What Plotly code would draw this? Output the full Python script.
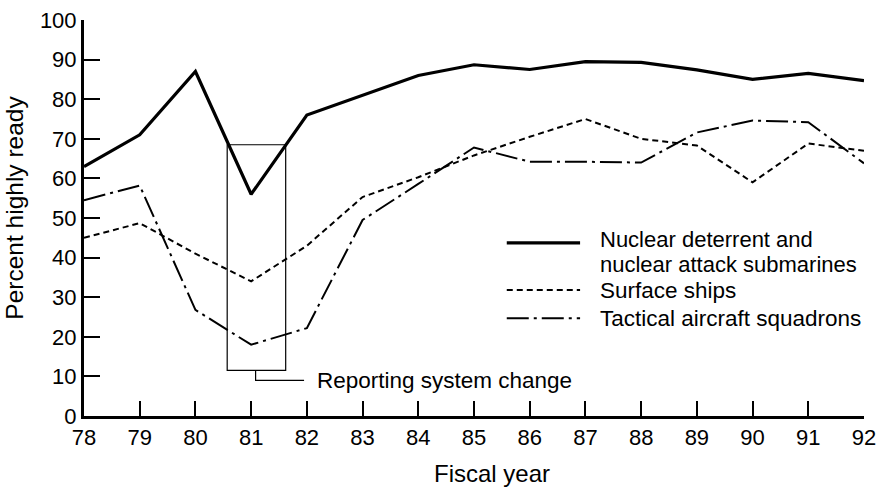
import plotly.graph_objects as go

years = list(range(78, 93))
year_labels = [str(y) for y in years]

nuclear = [63, 71, 87, 56, 76, 81, 86, 88.7, 87.5, 89.5, 89.3, 87.4, 85, 86.5, 84.7]
surface = [45, 48.7, 41, 34, 43, 55.3, 60.3, 65.8, 70.5, 75, 70, 68.3, 59, 68.8, 67]
tactical = [54.5, 58.2, 26.8, 18, 22.2, 49.5, 58.6, 67.8, 64.2, 64.2, 64, 71.6, 74.6, 74.2, 63.8]

y_ticks = list(range(0, 101, 10))

# reporting system change box (data units)
box_x = [80.57, 81.62]
box_y = [11.5, 68.5]
note_x = 81.08
note_y = 9.0
note_end = 81.95

FONT = "Liberation Sans, Arial, Helvetica, sans-serif"
TXT = 22.5

fig = go.Figure()
fig.add_trace(go.Scatter(x=years, y=nuclear, mode="lines",
                         line=dict(color="black", width=3.2)))
fig.add_trace(go.Scatter(x=years, y=surface, mode="lines",
                         line=dict(color="black", width=2, dash="6px,4px")))
fig.add_trace(go.Scatter(x=years, y=tactical, mode="lines",
                         line=dict(color="black", width=2, dash="22px,5px,3px,5px")))

shapes = [
    dict(type="rect", xref="x", yref="y", x0=box_x[0], x1=box_x[1],
         y0=box_y[0], y1=box_y[1], line=dict(color="black", width=1.2)),
    dict(type="path", xref="x", yref="y",
         path=f"M {note_x},{box_y[0]} L {note_x},{note_y} L {note_end},{note_y}",
         line=dict(color="black", width=1.2)),
]

# legend samples drawn by hand
leg = [
    (0.437, dict(color="black", width=3.2)),
    (0.318, dict(color="black", width=2, dash="6px,4px")),
    (0.247, dict(color="black", width=2, dash="22px,5px,3px,5px")),
]
for yy, ln in leg:
    shapes.append(dict(type="line", xref="paper", yref="paper",
                       x0=0.542, x1=0.636, y0=yy, y1=yy, line=ln))

def note(text, x, y, xref="paper", yref="paper", size=TXT, **kw):
    d = dict(text=text, x=x, y=y, xref=xref, yref=yref, xanchor="left",
             yanchor="middle", showarrow=False,
             font=dict(family=FONT, size=size, color="black"))
    d.update(kw)
    return d

# two-line label: smaller base size keeps the line spacing tight
span = '<span style="font-size:22px">'
two_line = f"{span}Nuclear deterrent and</span><br>{span}nuclear attack submarines</span>"

annotations = [
    note("Reporting system change", note_end + 0.2, note_y, "x", "y"),
    note(two_line, 0.659, 0.413, size=19.5, align="left"),
    note("Surface ships", 0.659, 0.318),
    note("Tactical aircraft squadrons", 0.659, 0.247),
    # axis titles
    note("Percent highly ready", -0.089, 0.525, size=24.5, xanchor="center",
         textangle=-90),
    note("Fiscal year", 0.523, -0.145, size=24, xanchor="center"),
]

fig.update_layout(
    width=885, height=487,
    margin=dict(l=84, r=21, t=20, b=71),
    paper_bgcolor="white", plot_bgcolor="white",
    showlegend=False,
    font=dict(family=FONT, size=22, color="black"),
    shapes=shapes,
    annotations=annotations,
    xaxis=dict(range=[78, 92], tickvals=years, ticktext=year_labels,
               ticks="inside", ticklen=15, tickwidth=1.5, tickcolor="black",
               showline=True, linecolor="black", linewidth=3,
               showgrid=False, zeroline=False, automargin=False),
    yaxis=dict(range=[0, 100], tickvals=y_ticks,
               ticks="inside", ticklen=16, tickwidth=1.5, tickcolor="black",
               showline=True, linecolor="black", linewidth=3,
               showgrid=False, zeroline=False, automargin=False),
)

fig.write_html("out.html", config={"displayModeBar": False},
               post_script="document.body.style.margin='0';")
